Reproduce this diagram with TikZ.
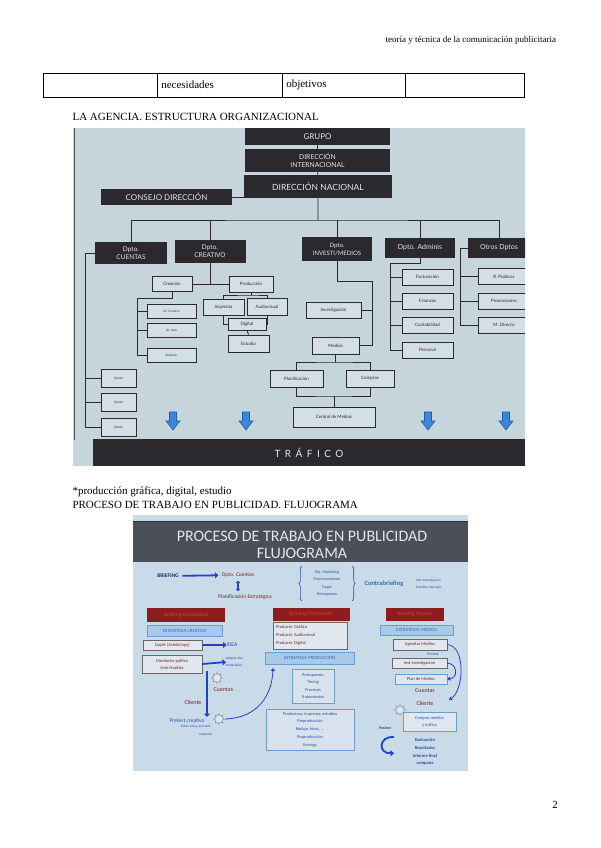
\documentclass[tikz,border=0pt]{standalone}
\usepackage{fontspec}
\setmainfont{Liberation Serif}
\newfontfamily\gill{Lato}
\newfontfamily\gillsp[LetterSpace=45]{Lato}
\newfontfamily\calib{Carlito}
\usetikzlibrary{arrows.meta,shapes.geometric,decorations.pathreplacing}
\definecolor{orgsky}{HTML}{C6D4DC}
\definecolor{orgpale}{HTML}{D4DFE5}
\definecolor{orgdark}{HTML}{2B292D}
\definecolor{orgtext}{HTML}{E4E6E8}
\definecolor{dropblue}{HTML}{3D86D6}
\definecolor{dropedge}{HTML}{1E5DA6}
\definecolor{slidesky}{HTML}{C9DBE9}
\definecolor{slidehead}{HTML}{4A4F59}
\definecolor{briefred}{HTML}{8C1C1E}
\definecolor{briefink}{HTML}{B8484A}
\definecolor{stratfill}{HTML}{A8C9E8}
\definecolor{stratline}{HTML}{6E9CCF}
\definecolor{stratink}{HTML}{3B69AE}
\definecolor{notefill}{HTML}{E1E7EE}
\definecolor{notegray}{HTML}{6E6468}
\definecolor{flowblue}{HTML}{2343C4}
\definecolor{flowink}{HTML}{2A4FA6}
\definecolor{wine}{HTML}{7A2424}
\newcommand{\fsz}[2]{\fontsize{#1}{#2}\selectfont}

\begin{document}
\begin{tikzpicture}[x=1pt, y=-1pt, font=\fsz{11}{13},
  orghead/.style={fill=orgdark, text=orgtext, inner sep=0, align=center, font=\gill\fsz{8}{9}},
  orgbox/.style={draw=orgdark, line width=0.9pt, fill=orgpale, text=orgdark, inner sep=0, align=center, font=\gill\fsz{4.5}{5}},
  orgline/.style={orgdark, line width=0.9pt},
  cell/.style={draw, line width=0.6pt, minimum height=24, inner xsep=4, inner ysep=0, align=left, anchor=west},
  redbox/.style={fill=briefred, text=briefink, inner sep=0, font=\calib\fsz{5.5}{6}},
  stratbox/.style={fill=stratfill, draw=stratline, line width=0.5pt, text=stratink, inner sep=0, font=\calib\fsz{4.8}{5}},
  notebox/.style={fill=notefill, draw=notegray, line width=0.5pt, inner sep=0, align=center, text=wine, font=\calib\fsz{4.5}{5}},
  flowtext/.style={text=flowink, inner sep=0, align=center, font=\calib\fsz{4}{7.5}},
  flowarrow/.style={flowblue, line width=1.8pt, -{Triangle[length=3.5pt,width=6pt]}},
  thinarrow/.style={flowblue, line width=0.8pt, -{Triangle[length=3pt,width=4pt]}},
  gear/.style={star, star points=8, star point ratio=1.7, draw=gray, fill=notefill, inner sep=0, minimum size=11, line width=0.4pt},
]
  \useasboundingbox (0,0) rectangle (600,848);

  % page text
  \node[anchor=west, font=\fsz{9}{10}] (runhead) at (382,40) {teoría y técnica de la comunicación publicitaria};
  \node[cell, text width=106] (cellA) at (43,85) {};
  \node[cell, text width=117] (cellB) at (157,85) {necesidades};
  \node[cell, text width=115] (cellC) at (282,85) {objetivos};
  \node[cell, text width=111] (cellD) at (405,85) {};
  \node[anchor=west] (agencia) at (69,117) {LA AGENCIA. ESTRUCTURA ORGANIZACIONAL};
  \node[anchor=west] (nota) at (69,492) {*producción gráfica, digital, estudio};
  \node[anchor=west] (proceso) at (69,505) {PROCESO DE TRABAJO EN PUBLICIDAD. FLUJOGRAMA};
  \node (pagenum) at (555,805) {2};

  % Photo 1: organigrama
  \begin{scope}
    \clip (73,128) rectangle (525,466);
    \fill[orgsky] (73,128) rectangle (525,466);
    \draw[orgdark!80, line width=1.5pt] (74.5,128) -- (74.5,440);

    % top of the chart
    \node[orghead, minimum width=145, minimum height=17] (grupo) at (317.5,136.5) {GRUPO};
    \node[orghead, minimum width=145, minimum height=23, font=\gill\fsz{6.8}{8}] (dirint) at (317.5,160.5) {DIRECCIÓN\\INTERNACIONAL};
    \node[orghead, minimum width=148, minimum height=23, font=\gill\fsz{8.5}{9}] (dirnac) at (318,186.5) {DIRECCIÓN NACIONAL};
    \node[orghead, minimum width=131, minimum height=16] (consejo) at (166.5,197) {CONSEJO DIRECCIÓN};
    \coordinate (bus) at (318,220);
    \draw[orgline] (grupo) -- (dirint) -- (dirnac) -- (bus);
    \draw[orgline] (consejo.east) -- (consejo.east -| bus);

    % departments
    \node[orghead, minimum width=72, minimum height=22, font=\gill\fsz{6.5}{8}] (cuentas) at (131,253) {Dpto.\\CUENTAS};
    \node[orghead, minimum width=71, minimum height=23, font=\gill\fsz{6.5}{8}] (creativo) at (210,251.5) {Dpto.\\CREATIVO};
    \node[orghead, minimum width=70, minimum height=24, font=\gill\fsz{6}{8}] (investi) at (337,249) {Dpto.\\INVESTI/MEDIOS};
    \node[orghead, minimum width=70, minimum height=20, font=\gill\fsz{7}{8}] (adminis) at (420,248) {Dpto. Adminis};
    \node[orghead, minimum width=62, minimum height=20, font=\gill\fsz{7}{8}] (otros) at (499,248) {Otros Dptos};
    \draw[orgline] (cuentas.north) |- (bus) -| (otros.north);
    \foreach \d in {creativo,investi,adminis} \draw[orgline] (\d.north) -- (\d.north |- bus);

    % Cuentas
    \foreach \y [count=\i] in {378.5,402.5,427.5}
      \node[orgbox, minimum width=35, minimum height=18, font=\gill\fsz{3}{4}] (cliente\i) at (118.5,\y) {Cliente};
    \coordinate (cspine) at (85,253);
    \draw[orgline] (cuentas.west) -- (cspine) |- (cliente3.west);
    \foreach \i in {1,2} \draw[orgline] (cliente\i.west) -- (cliente\i.west -| cspine);

    % Creativo
    \node[orgbox, minimum width=40, minimum height=15] (creacion) at (172,284) {Creación};
    \node[orgbox, minimum width=44, minimum height=16] (produccion) at (251,284) {Producción};
    \draw[orgline] (creativo.south) -- (creativo.south |- produccion.west);
    \draw[orgline] (creacion.east) -- (produccion.west);
    \node[orgbox, minimum width=49, minimum height=14, font=\gill\fsz{3}{4}] (drcrea) at (171.5,311) {Dr. Creativo};
    \node[orgbox, minimum width=49, minimum height=14, font=\gill\fsz{3}{4}] (drarte) at (171.5,330.5) {Dr. Arte};
    \node[orgbox, minimum width=49, minimum height=14, font=\gill\fsz{3}{4}] (redactor) at (171.5,355) {Redactor};
    \coordinate (crspine) at (137,298);
    \draw[orgline] (creacion.south) |- (crspine) |- (redactor.west);
    \foreach \n in {drcrea,drarte} \draw[orgline] (\n.west) -- (\n.west -| crspine);
    \node[orgbox, minimum width=41, minimum height=16] (imprenta) at (223.5,307) {Imprenta};
    \node[orgbox, minimum width=40, minimum height=17] (audiovisual) at (267,306.5) {Audiovisual};
    \node[orgbox, minimum width=38, minimum height=12] (digital) at (247,324) {Digital};
    \node[orgbox, minimum width=41, minimum height=17] (estudio) at (248.5,343.5) {Estudio};
    \coordinate (prbar) at (251,295);
    \draw[orgline] (produccion.south) -- (prbar);
    \draw[orgline] (imprenta.north) |- (prbar) -| (audiovisual.north);
    \draw[orgline] (imprenta.south) |- (digital.west);
    \draw[orgline] (audiovisual.south) |- (digital.east);
    \draw[orgline] (digital.south) -- (estudio.north);

    % Investigacion / medios
    \node[orgbox, minimum width=55, minimum height=16] (investigacion) at (333.5,310) {Investigación};
    \node[orgbox, minimum width=47, minimum height=17] (medios) at (335.5,345.5) {Medios};
    \coordinate (imspine) at (372,281);
    \draw[orgline] (investi.south) |- (imspine) |- (medios.east);
    \draw[orgline] (investigacion.east) -- (investigacion.east -| imspine);
    \node[orgbox, minimum width=53, minimum height=17] (planif) at (296.5,378.5) {Planificación};
    \node[orgbox, minimum width=48, minimum height=17] (compras) at (370,378.5) {Compras};
    \node[orgbox, minimum width=82, minimum height=20] (central) at (334,417) {Central de Medios};
    \coordinate (mtop) at (335.5,362);
    \coordinate (mbot) at (334,396);
    \draw[orgline] (medios.south) -- (mtop);
    \draw[orgline] (planif.north) |- (mtop) -| (compras.north);
    \draw[orgline] (planif.south) |- (mbot) -| (compras.south);
    \draw[orgline] (mbot) -- (central.north);

    % Administracion
    \foreach \t/\y [count=\i] in {Facturación/277,Finanzas/301,Contabilidad/325,Personal/350}
      \node[orgbox, minimum width=51, minimum height=16] (adm\i) at (427.5,\y) {\t};
    \coordinate (adspine) at (390,263);
    \draw[orgline] (adminis.south) |- (adspine) |- (adm4.west);
    \foreach \i in {1,2,3} \draw[orgline] (adm\i.west) -- (adm\i.west -| adspine);

    % Otros
    \foreach \t/\y [count=\i] in {R. Publicas/276.5,Promociones/301,M. Directo/325}
      \node[orgbox, minimum width=52, minimum height=16] (otro\i) at (504,\y) {\t};
    \coordinate (otspine) at (460,248);
    \draw[orgline] (otros.west) -- (otspine) |- (otro3.west);
    \foreach \i in {1,2} \draw[orgline] (otro\i.west) -- (otro\i.west -| otspine);

    % arrows down to trafico
    \foreach \x in {173,246,428,506}
      \filldraw[fill=dropblue, draw=dropedge, line width=0.6pt] (\x-3.5,412) -- (\x+3.5,412) -- (\x+3.5,421) -- (\x+7,421) -- (\x,430) -- (\x-7,421) -- (\x-3.5,421) -- cycle;
    \node[orghead, minimum width=432, minimum height=27, font=\gillsp\fsz{10}{11}] (trafico) at (309,452.5) {TRÁFICO};
  \end{scope}

  % Photo 2: flujograma
  \fill[slidesky] (133,515) rectangle (468,771);
  \fill[slidehead] (133,521) rectangle (468,562);
  \draw[black!80, line width=0.8pt] (133,521) -- (468,521);
  \node[text=orgtext, align=center, font=\calib\fsz{16}{17}] (flujo) at (302,545) {PROCESO DE TRABAJO EN PUBLICIDAD\\FLUJOGRAMA};

  % briefing row
  \node[font=\calib\bfseries\fsz{5.5}{6}, text=flowink!60!black] (briefing) at (168,576) {BRIEFING};
  \node[font=\calib\fsz{5.5}{6}, text=wine] (dptoc) at (238,575) {Dpto. Cuentas};
  \draw[flowarrow] (briefing) -- (dptoc);
  \node[font=\calib\fsz{5.5}{6}, text=wine] (planest) at (245,597) {Planificación Estratégica};
  \draw[flowblue, line width=1.4pt, {Triangle[length=2pt,width=4pt]}-{Triangle[length=2pt,width=4pt]}] (dptoc.south) -- (dptoc.south |- planest.north);
  \node[flowtext, minimum width=50, minimum height=34] (objs) at (327,583.5) {Obj. Marketing\\Posicionamiento\\Target\\Presupuesto};
  \draw[flowink, line width=0.6pt, decorate, decoration={brace, amplitude=3pt}] (objs.south west) -- (objs.north west);
  \draw[flowink, line width=0.6pt, decorate, decoration={brace, amplitude=3pt}] (objs.north east) -- (objs.south east);
  \node[font=\calib\bfseries\fsz{6.5}{7}, text=stratink] (contra) at (384,584) {Contrabriefing};
  \node[flowtext, font=\calib\fsz{3.5}{7}, align=left, anchor=west] (instm) at (416,583.5) {Inst Investigación\\Estudios mercado};

  % creatividad
  \node[redbox, minimum width=78, minimum height=14] (bcrea) at (186,615) {Briefing Creatividad};
  \node[stratbox, minimum width=75, minimum height=11] (ecrea) at (184.5,630.5) {ESTRATEGIA CREATIVA};
  \node[notebox, minimum width=59, minimum height=10] (duple) at (172.5,645) {Duple (Arte\&Copy)};
  \node[flowtext, font=\calib\fsz{5.5}{6}] (idea) at (232,645) {IDEA};
  \draw[flowarrow] (duple.east) -- (idea.west);
  \node[notebox, minimum width=60, minimum height=18, font=\calib\fsz{4.5}{7}] (disen) at (172,664) {Diseñador gráfico\\Arte finalista};
  \node[flowtext, font=\calib\fsz{3.5}{7}, align=left, anchor=west] (adapta) at (226,662) {Adapta idea\\Materializa};
  \draw[flowarrow] (disen.east) -- (adapta.west);
  \node[gear] (gear1) at (217,678) {};
  \coordinate (ctop) at (207,671);
  \coordinate (cbot) at (207,717);
  \draw[flowarrow, line width=2.2pt] (ctop) -- (cbot);
  \node[anchor=west, font=\calib\fsz{6}{7}, text=wine] (cuentasA) at (210,690) {Cuentas};
  \node[anchor=east, font=\calib\fsz{6}{7}, text=wine] (clienteA) at (205,702) {Cliente};
  \node[flowtext, font=\calib\fsz{5.5}{6}] (pretest) at (187,721) {Pretest creativo};
  \node[flowtext, font=\calib\fsz{3.5}{7.5}, align=right, anchor=north east] (fotos) at (212,725) {Fotos, story, animatic,\\maqueta};
  \node[gear] (gear2) at (219,719) {};
  \coordinate (epin) at (273,668);
  \draw[thinarrow] (gear2.east) .. controls (258,718) and (272,695) .. (epin);

  % produccion
  \node[redbox, minimum width=77, minimum height=13] (bprod) at (311.5,614.5) {Briefing Producción};
  \node[notebox, text width=68, inner xsep=3, minimum height=27, align=left, font=\calib\fsz{4.5}{8}] (producers) at (310,635.5) {Producer Gráfico\\Producer Audiovisual\\Producer Digital};
  \node[stratbox, minimum width=89, minimum height=12] (estprod) at (309.5,658) {ESTRATEGIA PRODUCCIÓN};
  \node[flowtext, draw=stratline, line width=0.4pt, fill=notefill!60!slidesky, minimum width=42, minimum height=34, font=\calib\fsz{4.3}{7.3}] (presup) at (313,686) {Presupuesto\\Timing\\Procesos\\Tratamientos};
  \node[flowtext, draw=stratline, line width=0.4pt, fill=notefill!60!slidesky, minimum width=88, minimum height=41, font=\calib\fsz{4.3}{7.7}] (productora) at (310,729.5) {Productora, imprenta, estudios\\Preproducción\\Rodaje, fotos, ...\\Posproducción\\Entrega};

  % medios
  \node[redbox, minimum width=58, minimum height=13] (bmed) at (415,614.5) {Briefing Medios};
  \node[stratbox, minimum width=73, minimum height=10] (estmed) at (416.5,630) {ESTRATEGIA MEDIOS};
  \node[notebox, minimum width=54, minimum height=11] (agendas) at (420,644.5) {Agendas Medios};
  \node[flowtext, font=\calib\fsz{4}{5}] (pretestB) at (433,654) {Pretest};
  \node[notebox, minimum width=55, minimum height=10] (instinv) at (419.5,663) {Inst Investigación};
  \node[notebox, draw=stratline, minimum width=52, minimum height=10] (plan) at (421,679) {Plan de Medios};
  \coordinate (mtip) at (449,700);
  \draw[thinarrow] (agendas.east) .. controls (466,646) and (464,690) .. (mtip);
  \draw[thinarrow] (instinv.east) .. controls (458,664) and (458,678) .. (plan.east);
  \node[font=\calib\fsz{6}{7}, text=wine] (cuentasB) at (425,691) {Cuentas};
  \node[font=\calib\fsz{6}{7}, text=wine] (clienteB) at (425,703) {Cliente};
  \node[gear] (gear3) at (400,710) {};
  \node[notebox, draw=stratline, text=flowink, minimum width=53, minimum height=19, font=\calib\fsz{4.5}{7}] (compra) at (429.5,721.5) {Compra medios\\y tráfico};
  \node[flowtext, font=\calib\bfseries\fsz{4}{5}] (postest) at (385,728) {Postest};
  \coordinate (cstart) at (394,737);
  \coordinate (cend) at (394,753);
  \draw[flowarrow] (cstart) .. controls (378,736) and (378,754) .. (cend);
  \node[flowtext, font=\calib\bfseries\fsz{4.5}{7.6}] (evalua) at (425,752) {Evaluación\\Resultados\\Informe final\\campaña};
\end{tikzpicture}
\end{document}
